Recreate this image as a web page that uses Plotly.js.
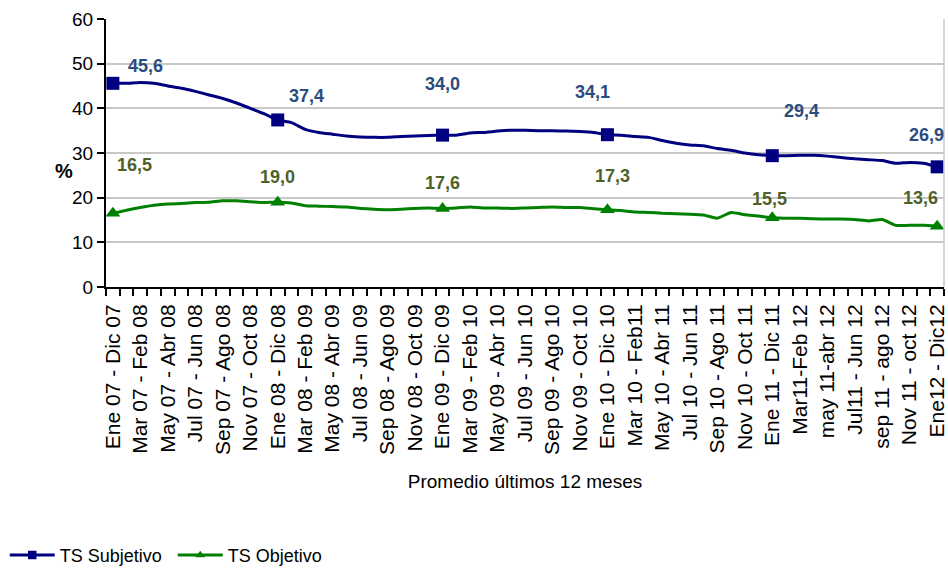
<!DOCTYPE html>
<html>
<head>
<meta charset="utf-8">
<script src="https://cdn.plot.ly/plotly-3.0.1.min.js"></script>
<style>
  body { margin: 0; background: #fff; }
  #chart { width: 948px; height: 569px; }
</style>
</head>
<body>
<div id="chart"></div>
<script>
// Promedio móvil 12 meses, ventanas mensuales Ene07-Dic07 ... Ene12-Dic12
const etiquetas = [
  "Ene 07 - Dic 07", "Mar 07 - Feb 08", "May 07 - Abr 08", "Jul 07 - Jun 08",
  "Sep 07 - Ago 08", "Nov 07 - Oct 08", "Ene 08 - Dic 08", "Mar 08 - Feb 09",
  "May 08 - Abr 09", "Jul 08 - Jun 09", "Sep 08 - Ago 09", "Nov 08 - Oct 09",
  "Ene 09 - Dic 09", "Mar 09 - Feb 10", "May 09 - Abr 10", "Jul 09 - Jun 10",
  "Sep 09 - Ago 10", "Nov 09 - Oct 10", "Ene 10 - Dic 10", "Mar 10 - Feb11",
  "May 10 - Abr 11", "Jul 10 - Jun 11", "Sep 10 - Ago 11", "Nov 10 - Oct 11",
  "Ene 11 - Dic 11", "Mar11-Feb 12", "may 11-abr 12", "Jul11 - Jun 12",
  "sep 11 - ago 12", "Nov 11 - oct 12", "Ene12 - Dic12"
];

const tsSubjetivo = [
  45.6, 45.6, 45.8, 45.6, 45.0, 44.5, 43.8, 43.0, 42.2, 41.2, 40.0, 38.8,
  37.4, 36.8, 35.3, 34.6, 34.2, 33.8, 33.6, 33.5, 33.5, 33.7, 33.8, 33.9,
  34.0, 34.0, 34.5, 34.6, 34.9, 35.1, 35.1, 35.0, 35.0, 34.9, 34.8, 34.6,
  34.1, 34.0, 33.7, 33.5, 32.8, 32.2, 31.8, 31.6, 31.0, 30.6, 30.0, 29.6,
  29.4, 29.4, 29.5, 29.5, 29.3, 29.0, 28.7, 28.5, 28.3, 27.7, 27.9, 27.7,
  26.9
];

const tsObjetivo = [
  16.5, 17.2, 17.8, 18.3, 18.6, 18.7, 18.9, 19.0, 19.3, 19.3, 19.1, 18.9,
  19.0, 18.8, 18.2, 18.1, 18.0, 17.9, 17.6, 17.4, 17.3, 17.4, 17.6, 17.7,
  17.6, 17.7, 17.9, 17.7, 17.7, 17.6, 17.7, 17.8, 17.9, 17.8, 17.8, 17.5,
  17.3, 17.1, 16.8, 16.7, 16.5, 16.4, 16.3, 16.1, 15.4, 16.7, 16.2, 15.9,
  15.5, 15.4, 15.4, 15.3, 15.2, 15.2, 15.1, 14.8, 15.1, 13.8, 13.8, 13.8,
  13.6
];

// desplazamiento (px) de las etiquetas de datos respecto al marcador
const offSubjetivo = [[33, 17], [29, 24], [0, 51], [-15, 43], [29, 45], [-11, 32]];
const offObjetivo = [[22, 48], [0, 25], [0, 25], [5, 34], [-3, 19], [-17, 28]];

const FONT = "Liberation Sans, Arial, sans-serif";
const x = tsSubjetivo.map((_, i) => i);
const esMarca = (i) => i % 12 === 0;

function serie(nombre, y, color, simbolo) {
  return {
    x: x,
    y: y,
    name: nombre,
    type: "scatter",
    mode: "lines+markers",
    line: { color: color, width: 3, shape: "spline", smoothing: 0.5 },
    marker: {
      symbol: simbolo,
      opacity: 1,
      size: x.map((i) => (esMarca(i) ? 13 : 8)),
      color: x.map((i) => (esMarca(i) ? color : "rgba(0,0,0,0)")),
      line: { width: 0 }
    },
    hoverinfo: "x+y"
  };
}

function etiquetasDatos(y, offs, color) {
  const out = [];
  let k = 0;
  x.forEach((i) => {
    if (!esMarca(i)) return;
    out.push({
      x: i, y: y[i], xref: "x", yref: "y",
      text: y[i].toFixed(1).replace(".", ","),
      showarrow: false,
      xshift: offs[k][0], yshift: offs[k][1],
      font: { family: FONT, size: 18, color: color, weight: "bold" }
    });
    k++;
  });
  return out;
}

const traces = [
  serie("TS Subjetivo", tsSubjetivo, "#000080", "square"),
  serie("TS Objetivo", tsObjetivo, "#008000", "triangle-up")
];

const annotations = [
  ...etiquetasDatos(tsSubjetivo, offSubjetivo, "#2B4C7E"),
  ...etiquetasDatos(tsObjetivo, offObjetivo, "#4F6228"),
  {
    text: "%", xref: "paper", yref: "y", x: -0.063, y: 26,
    showarrow: false,
    font: { family: FONT, size: 20, color: "#000", weight: "bold" }
  }
];

const layout = {
  width: 948,
  height: 569,
  margin: { l: 106, r: 4, t: 19, b: 282 },
  paper_bgcolor: "#fff",
  plot_bgcolor: "#fff",
  font: { family: FONT, color: "#000" },
  showlegend: true,
  legend: {
    orientation: "h",
    xref: "container", yref: "container",
    x: 0.005, y: 0.024,
    xanchor: "left", yanchor: "middle",
    itemwidth: 45,
    entrywidth: 108,
    font: { family: FONT, size: 18, color: "#000" }
  },
  xaxis: {
    range: [-0.5, 60.5],
    tickmode: "array",
    tickvals: etiquetas.map((_, k) => k * 2),
    ticktext: etiquetas,
    tickangle: -90,
    ticks: "outside",
    ticklen: 7,
    tickcolor: "rgba(0,0,0,0)",
    tickfont: { family: FONT, size: 21, color: "#000" },
    minor: { tickmode: "linear", tick0: -0.5, dtick: 1, ticks: "outside", ticklen: 7, tickwidth: 1.5, tickcolor: "#000", showgrid: false },
    showline: true, linecolor: "#000", linewidth: 2,
    showgrid: false, zeroline: false,
    title: { text: "Promedio últimos 12 meses", font: { family: FONT, size: 19, color: "#000" }, standoff: 21 }
  },
  yaxis: {
    range: [0, 60],
    dtick: 10,
    ticks: "outside",
    ticklen: 7,
    tickwidth: 1.5,
    tickcolor: "#000",
    tickfont: { family: FONT, size: 19, color: "#000" },
    showline: true, linecolor: "#000", linewidth: 2,
    showgrid: true, gridcolor: "#C8C8C8", gridwidth: 1.5,
    zeroline: false
  },
  shapes: [
    { type: "line", xref: "paper", yref: "paper", x0: 1, x1: 1, y0: 0, y1: 1, line: { color: "#C8C8C8", width: 1.5 } }
  ],
  annotations: annotations
};

Plotly.newPlot("chart", traces, layout, { displayModeBar: false, responsive: false });
</script>
</body>
</html>
